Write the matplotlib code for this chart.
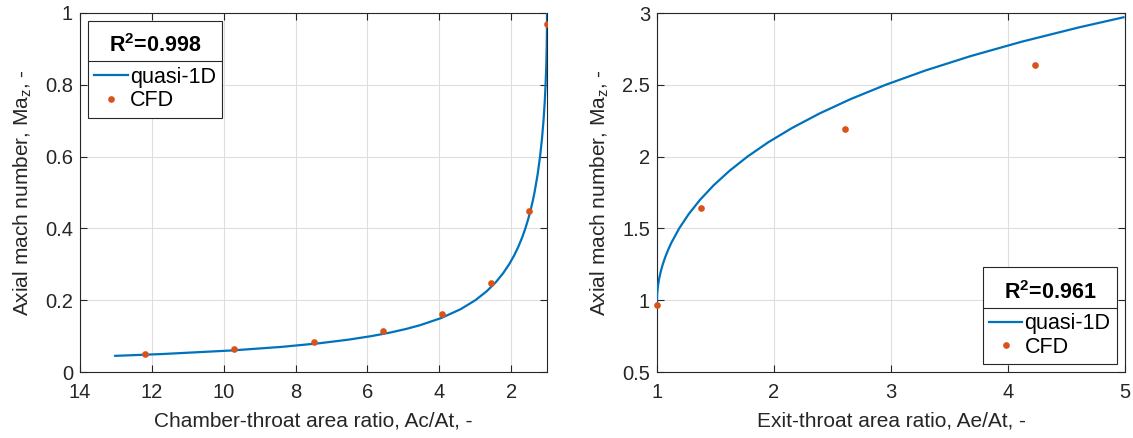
import matplotlib
matplotlib.use("Agg")
import matplotlib.pyplot as plt
from matplotlib.lines import Line2D
from matplotlib.offsetbox import PaddedBox

plt.rcParams['font.family'] = ['Liberation Sans', 'DejaVu Sans']
plt.rcParams['mathtext.fontset'] = 'custom'
plt.rcParams['mathtext.rm'] = 'Liberation Sans'

# ---- Left panel: chamber-throat (subsonic) ----
left_q1d_x = [13.02, 11.72, 9.775, 8.384, 7.343, 6.533, 5.886, 5.358, 4.918, 4.546, 3.953,
              3.4037, 2.994, 2.6777, 2.426, 2.2223, 2.054, 1.9127, 1.793, 1.6907, 1.602,
              1.5257, 1.4587, 1.3998, 1.348, 1.2614, 1.1933, 1.1395, 1.0973, 1.0644,
              1.0396, 1.0213, 1.0092, 1.0022, 1.00038, 1.0]
left_q1d_y = [0.045, 0.05, 0.06, 0.07, 0.08, 0.09, 0.10, 0.11, 0.12, 0.13, 0.15,
              0.175, 0.20, 0.225, 0.25, 0.275, 0.30, 0.325, 0.35, 0.375, 0.40,
              0.425, 0.45, 0.475, 0.50, 0.55, 0.60, 0.65, 0.70, 0.75,
              0.80, 0.85, 0.90, 0.95, 0.98, 1.0]
left_cfd_x = [12.2, 9.70, 7.49, 5.57, 3.93, 2.57, 1.50, 1.01]
left_cfd_y = [0.050, 0.063, 0.0845, 0.114, 0.1625, 0.249, 0.449, 0.969]
left_r2 = "0.998"

# ---- Right panel: exit-throat (supersonic) ----
right_q1d_x = [1.0, 1.0001, 1.00035, 1.00077, 1.0021, 1.0083, 1.0184, 1.0321, 1.0494, 1.0703,
               1.0948, 1.1227, 1.1895, 1.2712, 1.3689, 1.4840, 1.6182, 1.7731, 1.9513,
               2.1557, 2.3884, 2.6537, 2.9545, 3.2953, 3.6813, 4.1168, 4.6076, 4.987]
right_q1d_y = [1.0, 1.01, 1.02, 1.03, 1.05, 1.1, 1.15, 1.2, 1.25, 1.3,
               1.35, 1.4, 1.5, 1.6, 1.7, 1.8, 1.9, 2.0, 2.1,
               2.2, 2.3, 2.4, 2.5, 2.6, 2.7, 2.8, 2.9, 2.97]
right_cfd_x = [1.0, 1.372, 2.606, 4.227]
right_cfd_y = [0.969, 1.639, 2.194, 2.635]
right_r2 = "0.961"

BLUE = '#0072BD'
ORANGE = '#D95319'
AXC = '#262626'

W, H = 1133, 438
fig = plt.figure(figsize=(W / 100, H / 100), dpi=100)
axL = fig.add_axes([80 / W, (H - 372) / H, (547 - 80) / W, (372 - 13) / H])
axR = fig.add_axes([657 / W, (H - 372) / H, (1125 - 657) / W, (372 - 13) / H])

TFS = 14.5   # tick labels
AFS = 15     # axis labels
LFS = 15.5   # legend


def style(ax, xticks, yticks):
    ax.set_xticks(xticks)
    ax.set_yticks(yticks)
    ax.set_xticklabels([f"{t:g}" for t in xticks])
    ax.set_yticklabels([f"{t:g}" for t in yticks])
    ax.tick_params(direction='in', top=True, right=True, length=5, width=0.8,
                   colors=AXC, labelsize=TFS)
    ax.tick_params(axis='x', pad=8)
    ax.tick_params(axis='y', pad=5)
    for s in ax.spines.values():
        s.set_color(AXC)
        s.set_linewidth(0.8)
    ax.grid(True, color='#dedede', linewidth=0.8)
    ax.set_axisbelow(True)


def add_legend(ax, r2, loc, bbox):
    leg = ax.legend(loc=loc, bbox_to_anchor=bbox, title=f"R$^\\mathregular{{2}}$={r2}",
                    fontsize=LFS, title_fontproperties={'weight': 'bold', 'size': LFS},
                    frameon=True, fancybox=False, edgecolor=AXC, framealpha=1,
                    borderpad=0.3, handlelength=1.55, handletextpad=0.1,
                    labelspacing=0.1, borderaxespad=0)
    leg.get_frame().set_linewidth(0.8)
    box = leg._legend_box
    pb = PaddedBox(leg._legend_title_box, pad=5.0, draw_frame=False)
    pb.set_figure(fig)
    box._children[0] = pb
    box.sep = 2
    return leg


# Left
axL.plot(left_q1d_x, left_q1d_y, color=BLUE, lw=1.6, label='quasi-1D', zorder=3)
axL.plot(left_cfd_x, left_cfd_y, 'o', color=ORANGE, ms=4.8, mec='none', label='CFD', zorder=4)
axL.set_xlim(14, 1)
axL.set_ylim(0, 1)
style(axL, [14, 12, 10, 8, 6, 4, 2], [0, 0.2, 0.4, 0.6, 0.8, 1])
axL.set_xlabel('Chamber-throat area ratio, Ac/At, -', fontsize=AFS, color=AXC, labelpad=7)
axL.set_ylabel('Axial mach number, Ma$_\\mathregular{z}$, -', fontsize=AFS, color=AXC, labelpad=8)
legL = add_legend(axL, left_r2, 'upper left', (8 / 467, 1 - 8 / 359))

# Right
axR.plot(right_q1d_x, right_q1d_y, color=BLUE, lw=1.6, label='quasi-1D', zorder=3)
axR.plot(right_cfd_x, right_cfd_y, 'o', color=ORANGE, ms=4.8, mec='none', label='CFD',
         zorder=4, clip_on=False)
axR.set_xlim(1, 5)
axR.set_ylim(0.5, 3)
style(axR, [1, 2, 3, 4, 5], [0.5, 1, 1.5, 2, 2.5, 3])
axR.set_xlabel('Exit-throat area ratio, Ae/At, -', fontsize=AFS, color=AXC, labelpad=7)
axR.set_ylabel('Axial mach number, Ma$_\\mathregular{z}$, -', fontsize=AFS, color=AXC, labelpad=8)
legR = add_legend(axR, right_r2, 'lower right', (1 - 8 / 468, 8 / 359))

# separator line between legend title and entries
fig.canvas.draw()
rend = fig.canvas.get_renderer()
for leg in (legL, legR):
    fb = leg.get_frame().get_window_extent(rend)
    tb = leg.get_title().get_window_extent(rend)
    y = tb.y0 - 4
    fig.add_artist(Line2D([fb.x0 / W, fb.x1 / W], [y / H, y / H], transform=fig.transFigure,
                          color=AXC, lw=0.8, zorder=10))

fig.savefig('out.png', dpi=100)
